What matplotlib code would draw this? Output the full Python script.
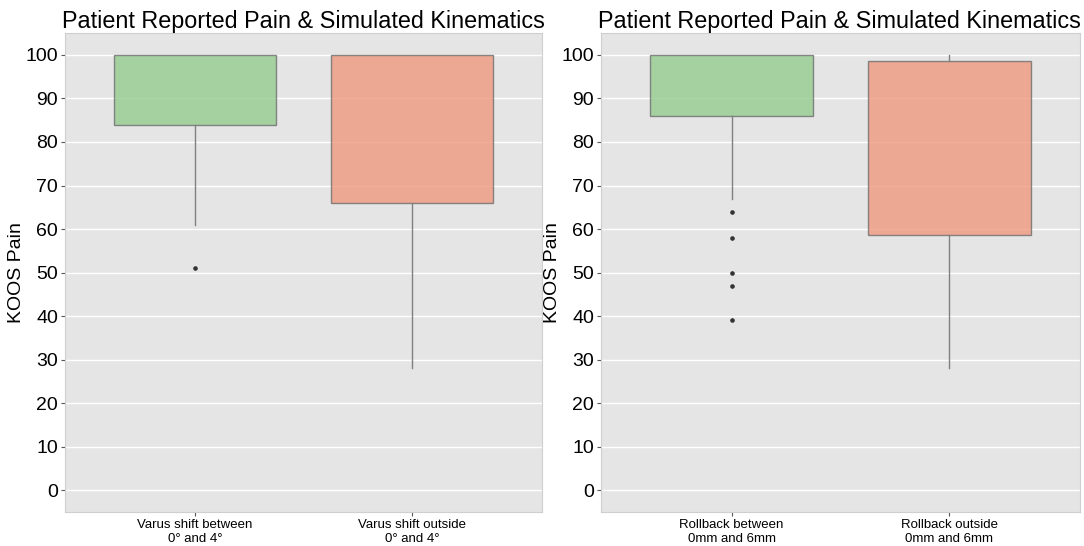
import matplotlib
matplotlib.use("Agg")
import matplotlib.pyplot as plt

plt.rcParams['font.family'] = ['Liberation Sans', 'DejaVu Sans']

title = "Patient Reported Pain & Simulated Kinematics"
ylabel = "KOOS Pain"
yticks = list(range(0, 101, 10))

# left panel: varus shift
varus_labels = ["Varus shift between\n0° and 4°", "Varus shift outside\n0° and 4°"]
varus_q1 = [84, 66]
varus_med = [100, 100]
varus_q3 = [100, 100]
varus_whislo = [61, 28]
varus_whishi = [100, 100]
varus_fliers = [[51], []]

# right panel: rollback
roll_labels = ["Rollback between\n0mm and 6mm", "Rollback outside\n0mm and 6mm"]
roll_q1 = [86, 58.6]
roll_med = [100, 83]
roll_q3 = [100, 98.6]
roll_whislo = [67, 28]
roll_whishi = [100, 100]
roll_fliers = [[64, 58, 50, 47, 39], []]

colors = ["#95cb8f", "#ef997d"]


def make_stats(labels, q1, med, q3, lo, hi, fl):
    stats = []
    for i in range(len(labels)):
        stats.append(dict(label=labels[i], q1=q1[i], med=med[i], q3=q3[i],
                          whislo=lo[i], whishi=hi[i], fliers=fl[i]))
    return stats


def draw_panel(ax, stats):
    ax.set_facecolor("#e5e5e5")
    ax.set_axisbelow(True)
    ax.grid(axis="y", color="white", linewidth=1.0)
    ax.grid(axis="x", visible=False)
    bp = ax.bxp(stats, positions=[1, 2], widths=0.75, patch_artist=True,
                boxprops=dict(edgecolor="#6e6e6e", linewidth=1.0),
                whiskerprops=dict(color="#808080", linewidth=1.0),
                capprops=dict(linewidth=0),
                medianprops=dict(linewidth=0),
                flierprops=dict(marker="o", markersize=2.3, markerfacecolor="#333333",
                                markeredgecolor="#333333"))
    for patch, c in zip(bp["boxes"], colors):
        patch.set_facecolor(c)
        patch.set_alpha(0.8)
    ax.set_xlim(0.4, 2.6)
    ax.set_ylim(-5, 105)
    ax.set_yticks(yticks)
    ax.tick_params(axis="y", labelsize=14, length=3, color="#555555", pad=2)
    ax.tick_params(axis="x", labelsize=9.5, length=3, color="#555555", pad=2)
    for s in ax.spines.values():
        s.set_color("#cfcfcf")
        s.set_linewidth(0.8)
    ax.set_ylabel(ylabel, fontsize=14, labelpad=0)
    ax.set_title(title, fontsize=16.8, loc="left", pad=3, x=-0.006)


fig = plt.figure(figsize=(10.84, 5.46), dpi=100)
ax1 = fig.add_axes([0.060, 0.0623, 0.440, 0.877])
ax2 = fig.add_axes([0.5544, 0.0623, 0.442, 0.877])

draw_panel(ax1, make_stats(varus_labels, varus_q1, varus_med, varus_q3,
                           varus_whislo, varus_whishi, varus_fliers))
draw_panel(ax2, make_stats(roll_labels, roll_q1, roll_med, roll_q3,
                           roll_whislo, roll_whishi, roll_fliers))

fig.savefig("out.png", dpi=100)
